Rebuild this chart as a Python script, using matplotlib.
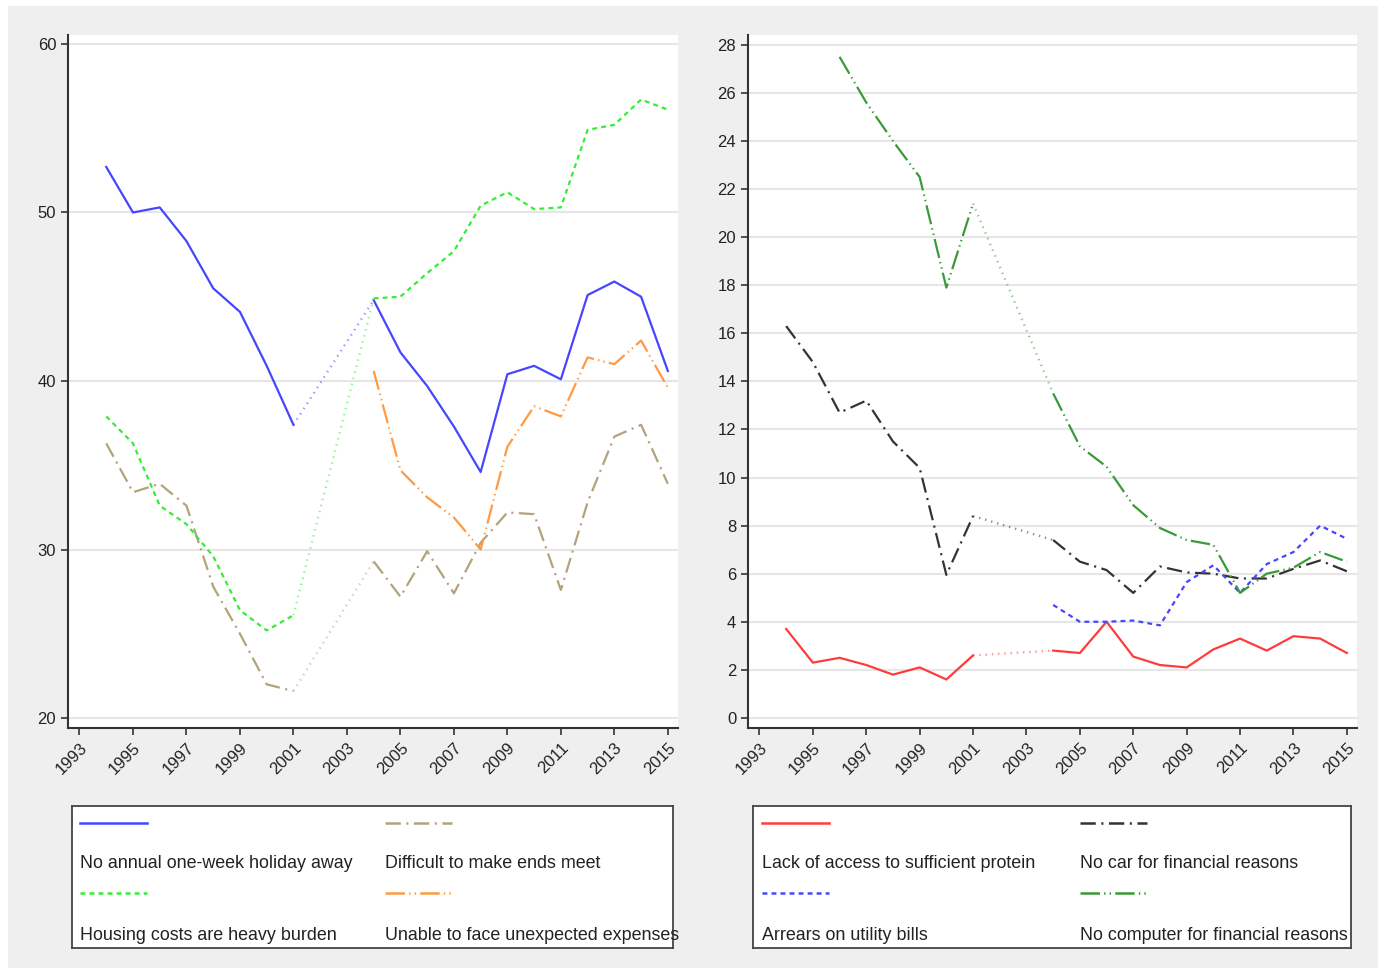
import numpy as np
import matplotlib
matplotlib.use("Agg")
import matplotlib.pyplot as plt
from matplotlib.patches import Rectangle

plt.rcParams['font.family'] = ['Liberation Sans', 'DejaVu Sans']
plt.rcParams['lines.scale_dashes'] = False

nan = np.nan
years = list(range(1994, 2016))
xticks = list(range(1993, 2016, 2))

# left panel (percent)
holiday = [52.7, 50.0, 50.3, 48.3, 45.5, 44.1, 40.9, 37.4, nan, nan, 44.8,
           41.7, 39.7, 37.3, 34.6, 40.4, 40.9, 40.1, 45.1, 45.9, 45.0, 40.6]
housing = [37.9, 36.3, 32.6, 31.5, 29.6, 26.4, 25.2, 26.1, nan, nan, 44.9,
           45.0, 46.4, 47.7, 50.4, 51.2, 50.2, 50.3, 54.9, 55.2, 56.7, 56.1]
ends_meet = [36.3, 33.4, 33.9, 32.6, 27.8, 25.0, 22.0, 21.6, nan, nan, 29.3,
             27.2, 29.9, 27.4, 30.4, 32.2, 32.1, 27.6, 32.8, 36.7, 37.4, 33.9]
unexpected = [nan] * 10 + [40.6, 34.7, 33.1, 31.9, 30.0, 36.1, 38.5, 37.9,
                           41.4, 41.0, 42.4, 39.6]

# right panel (percent)
protein = [3.7, 2.3, 2.5, 2.2, 1.8, 2.1, 1.6, 2.6, nan, nan, 2.8,
           2.7, 4.0, 2.55, 2.2, 2.1, 2.85, 3.3, 2.8, 3.4, 3.3, 2.7]
car = [16.3, 14.8, 12.7, 13.2, 11.5, 10.4, 5.95, 8.4, nan, nan, 7.4,
       6.5, 6.15, 5.2, 6.3, 6.05, 6.0, 5.8, 5.8, 6.2, 6.55, 6.1]
arrears = [nan] * 10 + [4.7, 4.0, 4.0, 4.05, 3.85, 5.65, 6.35, 5.2,
                        6.4, 6.9, 8.0, 7.45]
computer = [nan, nan, 27.5, 25.6, 24.0, 22.5, 17.9, 21.4, nan, nan, 13.5,
            11.3, 10.45, 8.85, 7.9, 7.4, 7.2, 5.2, 6.0, 6.25, 6.9, 6.5]

SOLID = (None, None)
SHORTDASH = (0, (3.5, 3))
LONGDASH_DOT = (0, (11, 4, 1.5, 4))
DASH_DOTS = (0, (14, 3, 1, 3, 1, 3))

left_series = [
    ("No annual one-week holiday away", holiday, "#4646ff", SOLID),
    ("Difficult to make ends meet", ends_meet, "#b3a37c", LONGDASH_DOT),
    ("Housing costs are heavy burden", housing, "#33ee33", SHORTDASH),
    ("Unable to face unexpected expenses", unexpected, "#ff9a40", DASH_DOTS),
]
right_series = [
    ("Lack of access to sufficient protein", protein, "#ff3c3c", SOLID),
    ("No car for financial reasons", car, "#333333", LONGDASH_DOT),
    ("Arrears on utility bills", arrears, "#4646ff", SHORTDASH),
    ("No computer for financial reasons", computer, "#3a9a3a", DASH_DOTS),
]


def draw_series(ax, vals, color, style):
    vals = np.array(vals, dtype=float)
    yrs = np.array(years)
    ls = '-' if style == SOLID else style
    ax.plot(yrs, vals, color=color, lw=1.6, linestyle=ls)
    # dotted connector across interior gaps
    ok = np.where(~np.isnan(vals))[0]
    for a, b in zip(ok[:-1], ok[1:]):
        if b - a > 1:
            ax.plot(yrs[[a, b]], vals[[a, b]], color=color, lw=1.7,
                    alpha=0.55, linestyle=(0, (1, 3.5)))


def setup_axes(ax, ylim, yticks):
    ax.set_facecolor("white")
    ax.set_ylim(*ylim)
    ax.set_xlim(1992.57, 2015.38)
    ax.set_yticks(yticks)
    ax.set_xticks(xticks)
    ax.set_xticklabels([str(x) for x in xticks], rotation=45, ha='right',
                       rotation_mode='anchor')
    ax.grid(axis='y', color='#e6e6e6', lw=1.5)
    ax.set_axisbelow(True)
    for s in ['top', 'right']:
        ax.spines[s].set_visible(False)
    for s in ['left', 'bottom']:
        ax.spines[s].set_color('#333333')
        ax.spines[s].set_linewidth(1.5)
    ax.tick_params(direction='out', length=5, width=1.2, color='#333333',
                   labelsize=12, labelcolor='#222222')


def draw_legend(fig, box, series, cols):
    x0, y0, x1, y1 = box
    W, H = 1385, 974
    lax = fig.add_axes([x0 / W, 1 - y1 / H, (x1 - x0) / W, (y1 - y0) / H])
    lax.set_xlim(0, x1 - x0)
    lax.set_ylim(y1 - y0, 0)
    lax.set_xticks([])
    lax.set_yticks([])
    lax.set_facecolor('white')
    for s in lax.spines.values():
        s.set_color('#444444')
        s.set_linewidth(1.3)
    for i, (label, _, color, style) in enumerate(series):
        cx = cols[i % 2]
        row = i // 2
        ky = 17 + row * 70
        ty = 57 + row * 72
        ls = '-' if style == SOLID else style
        lax.plot([cx, cx + 67], [ky, ky], color=color, lw=1.8, linestyle=ls)
        lax.text(cx, ty, label, fontsize=12.9, color='#222222',
                 ha='left', va='center', clip_on=False)


fig = plt.figure(figsize=(13.85, 9.74), dpi=100)
fig.patch.set_facecolor('white')
fig.patches.append(Rectangle((8 / 1385, 6 / 974), 1370 / 1385, 962 / 974,
                             transform=fig.transFigure, facecolor='#efefef',
                             edgecolor='none', zorder=-10))

ax1 = fig.add_axes([68 / 1385, 1 - 728 / 974, 610 / 1385, 693 / 974])
ax2 = fig.add_axes([748 / 1385, 1 - 728 / 974, 609 / 1385, 693 / 974])

setup_axes(ax1, (19.41, 60.53), [20, 30, 40, 50, 60])
setup_axes(ax2, (-0.42, 28.41), list(range(0, 29, 2)))

for _, vals, color, style in left_series:
    draw_series(ax1, vals, color, style)
for _, vals, color, style in right_series:
    draw_series(ax2, vals, color, style)

draw_legend(fig, (72, 806, 673, 948), left_series, [8, 313])
draw_legend(fig, (753, 806, 1351, 948), right_series, [9, 327])

fig.savefig("out.png", dpi=100, facecolor=fig.get_facecolor())
